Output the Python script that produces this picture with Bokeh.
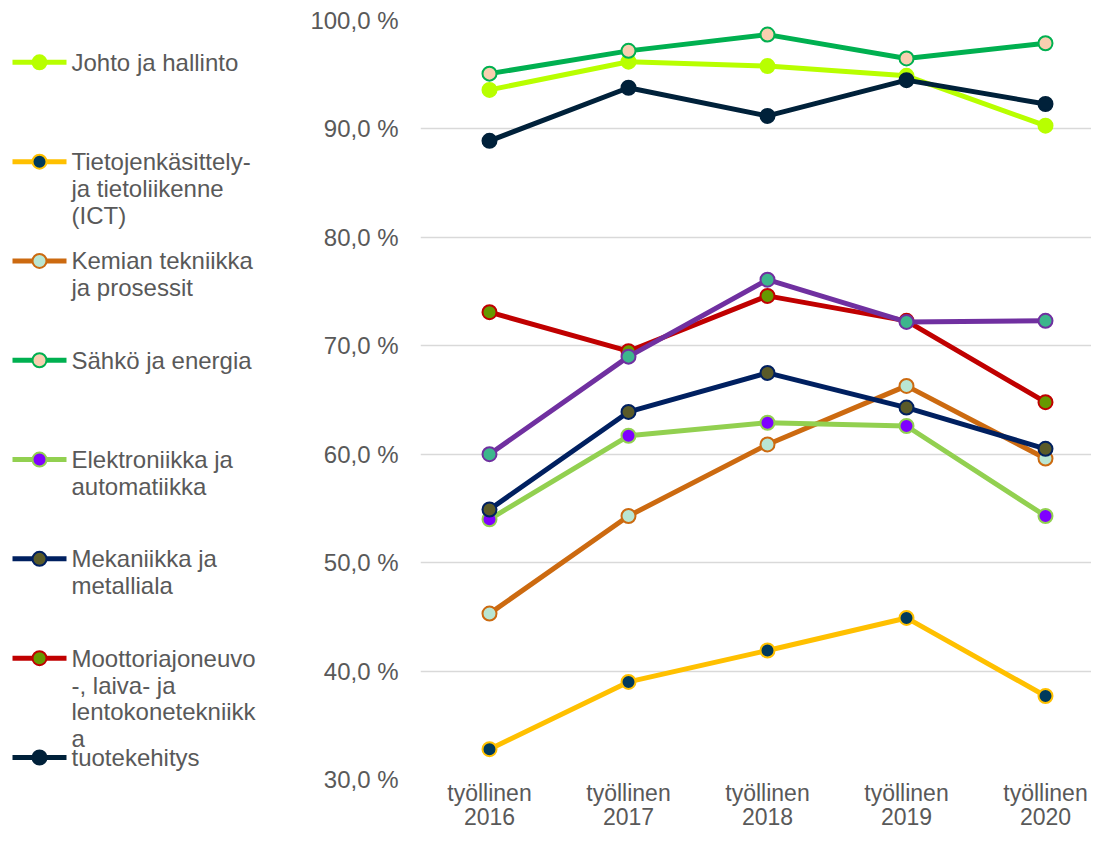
from bokeh.plotting import figure
from bokeh.layouts import row
from bokeh.models import Range1d, FixedTicker
from bokeh.core.properties import value
from bokeh.embed import file_html
from bokeh.resources import INLINE

# ---------------- data ----------------
categories = ["työllinen\n2016", "työllinen\n2017", "työllinen\n2018", "työllinen\n2019", "työllinen\n2020"]
y_ticks = [30, 40, 50, 60, 70, 80, 90, 100]
y_tick_labels = ["30,0 %", "40,0 %", "50,0 %", "60,0 %", "70,0 %", "80,0 %", "90,0 %", "100,0 %"]

series_names = [
    "Johto ja hallinto",
    "Tietojenkäsittely-\nja tietoliikenne\n(ICT)",
    "Kemian tekniikka\nja prosessit",
    "Sähkö ja energia",
    "Elektroniikka ja\nautomatiikka",
    "Mekaniikka ja\nmetalliala",
    "Moottoriajoneuvo\n-, laiva- ja\nlentokonetekniikk\na",
    "tuotekehitys",
    None,  # ninth series: its legend entry is not visible
]

johto = [93.6, 96.2, 95.8, 94.9, 90.3]
ict = [32.8, 39.0, 41.9, 44.9, 37.7]
kemia = [45.3, 54.3, 60.9, 66.3, 59.6]
sahko = [95.1, 97.2, 98.7, 96.5, 97.9]
elektro = [54.0, 61.7, 62.9, 62.6, 54.3]
mekaniikka = [54.9, 63.9, 67.5, 64.3, 60.5]
moottori = [73.1, 69.5, 74.6, 72.3, 64.8]
tuotekehitys = [88.9, 93.8, 91.2, 94.5, 92.3]
muu = [60.0, 69.0, 76.1, 72.2, 72.3]

series_values = [johto, ict, kemia, sahko, elektro, mekaniikka, moottori, tuotekehitys, muu]

line_colors = ["#B8FF00", "#FFC000", "#CC6A10", "#00B050", "#92D050", "#002060", "#C00000", "#00213A", "#7030A0"]
marker_fills = ["#B8FF00", "#003A5C", "#B9E6D3", "#F8CFB0", "#7F00FF", "#5A5A28", "#669900", "#00213A", "#3DB68C"]

# ---------------- styling ----------------
FONT = "Liberation Sans"
TXT = "#595959"
GRID = "#D9D9D9"

TOTAL_W = 1091
TOTAL_H = 833
LEG_W = 290
CH_W = TOTAL_W - LEG_W
TOP = 20
BOTTOM_B = 51

# ---------------- chart ----------------
p = figure(width=CH_W, height=TOTAL_H, output_backend="svg", toolbar_location=None,
           x_range=Range1d(-0.4964, 4.331), y_range=Range1d(30, 100),
           min_border_left=130, min_border_right=0, min_border_top=TOP, min_border_bottom=BOTTOM_B)
p.outline_line_color = None
p.background_fill_color = "white"
p.border_fill_color = "white"

xs = list(range(len(categories)))
for vals, lc, mf in zip(series_values, line_colors, marker_fills):
    p.line(xs, vals, line_color=lc, line_width=5)
    p.scatter(xs, vals, size=14, fill_color=mf, line_color=lc, line_width=2)

p.xaxis.ticker = FixedTicker(ticks=xs)
p.xaxis.major_label_overrides = {i: c for i, c in zip(xs, categories)}
p.yaxis.ticker = FixedTicker(ticks=y_ticks)
p.yaxis.major_label_overrides = {t: l for t, l in zip(y_ticks, y_tick_labels)}

for ax in [p.xaxis[0], p.yaxis[0]]:
    ax.axis_line_color = None
    ax.major_tick_line_color = None
    ax.minor_tick_line_color = None
    ax.major_tick_out = 0
    ax.major_tick_in = 0
    ax.major_label_text_font = FONT
    ax.major_label_text_color = TXT
p.xaxis.major_label_text_font_size = "23px"
p.yaxis.major_label_text_font_size = "24px"
p.xaxis.major_label_standoff = 0
p.xaxis.major_label_text_line_height = 0.95
p.yaxis.major_label_standoff = 22

p.xgrid.grid_line_color = None
p.ygrid.grid_line_color = GRID
p.ygrid.grid_line_width = 1.5

# ---------------- legend (separate panel, frame aligned with chart frame) ----------------
leg = figure(width=LEG_W, height=TOTAL_H, output_backend="svg", toolbar_location=None,
             x_range=Range1d(0, LEG_W), y_range=Range1d(TOTAL_H - BOTTOM_B, TOP),
             min_border_left=0, min_border_right=0, min_border_top=TOP, min_border_bottom=BOTTOM_B)
leg.axis.visible = False
leg.grid.visible = False
leg.outline_line_color = None

y0 = 62.0
step = 99.7
line_h = 27
for i, (name, lc, mf) in enumerate(zip(series_names, line_colors, marker_fills)):
    if name is None:
        continue
    yy = y0 + i * step
    leg.line([12, 66], [yy, yy], line_color=lc, line_width=5)
    leg.scatter([39], [yy], size=14, fill_color=mf, line_color=lc, line_width=2)
    lines = name.split("\n")
    leg.text([71] * len(lines), [yy + k * line_h for k in range(len(lines))], text=lines,
             text_font=value(FONT), text_font_size="24px", text_color=TXT,
             text_baseline="middle", text_align="left")

layout = row(leg, p)
open("out.html", "w").write(file_html(layout, INLINE))
